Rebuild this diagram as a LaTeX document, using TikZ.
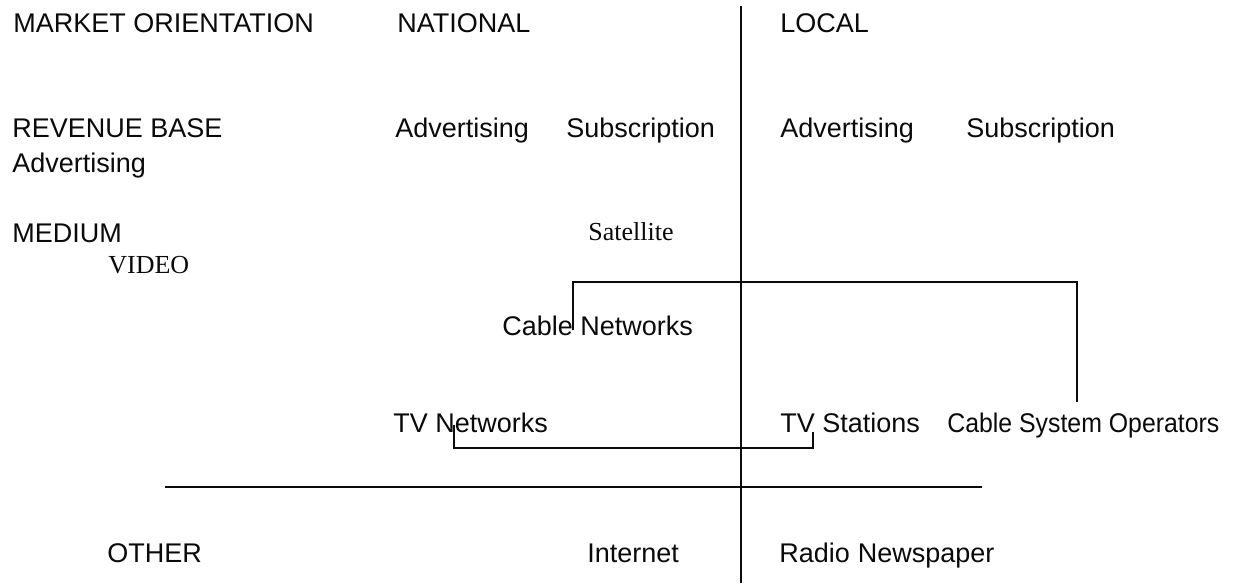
\documentclass[tikz,border=0pt]{standalone}
\usepackage{fontspec}
\setmainfont{Liberation Sans}
\newfontfamily\serifface{Liberation Serif}
\newfontfamily\narrowface[FakeStretch=0.92]{Liberation Sans}
\usepackage{tikz}
\usetikzlibrary{positioning, calc}
\definecolor{mapdark}{RGB}{10, 10, 10}

\tikzset{
	lbl/.style={anchor=base west, inner sep=0pt, text=mapdark, font=\fontsize{13.5}{16}\selectfont},
	serl/.style={lbl, font=\serifface\fontsize{13}{15}\selectfont},
	narl/.style={lbl, font=\narrowface\fontsize{13.5}{16}\selectfont},
	axis/.style={mapdark, line width=0.9pt},
	link/.style={mapdark, line width=0.8pt}
}

\begin{document}
\begin{tikzpicture}[x=0.5pt, y=-0.5pt]
				\useasboundingbox (0,0) rectangle (1240,583);
				% row headings
				\node[lbl] (market) at (13,33) {MARKET ORIENTATION};
				\node[lbl] (national) at (397,33) {NATIONAL};
				\node[lbl] (local) at (780,33) {LOCAL};
				\node[lbl] (revenue) at (12,137) {REVENUE BASE};
				\node[lbl] (revadv) at (12,172) {Advertising};
				\node[lbl] (natadv) at (395,137) {Advertising};
				\node[lbl] (natsub) at (566,137) {Subscription};
				\node[lbl] (locadv) at (780,137) {Advertising};
				\node[lbl] (locsub) at (966,137) {Subscription};
				\node[lbl] (medium) at (12,242) {MEDIUM};
				\node[serl] (video) at (108,273) {VIDEO};
				\node[serl] (satellite) at (588,240) {Satellite};
				% video outlets
				\node[lbl] (cablenet) at (502,335) {Cable Networks};
				\node[lbl] (tvnet) at (393,432) {TV Networks};
				\node[lbl] (tvstat) at (780,432) {TV Stations};
				\node[narl] (cableops) at (947,432) {Cable System Operators};
				% other media
				\node[lbl] (other) at (107,562) {OTHER};
				\node[lbl] (internet) at (587,562) {Internet};
				\node[lbl] (radio) at (779,562) {Radio\hspace{4pt}Newspaper};
				% dividing lines
				\coordinate (vtop) at (741,6);
				\coordinate (vbot) at (741,583);
				\coordinate (hleft) at (165,487);
				\coordinate (hright) at (982,487);
				\draw[axis] (vtop) -- (vbot);
				\draw[axis] (hleft) -- (hright);
				% brackets
				\coordinate (cabtip) at (573,330);
				\coordinate (opstip) at (1077,402);
				\coordinate (tvntip) at (454,425);
				\coordinate (tvstip) at (813,432);
				\draw[link] (cabtip) -- ++(0,-48) -| (opstip);
				\draw[link] (tvntip) -- ++(0,23) -| (tvstip);
			\end{tikzpicture}
\end{document}
